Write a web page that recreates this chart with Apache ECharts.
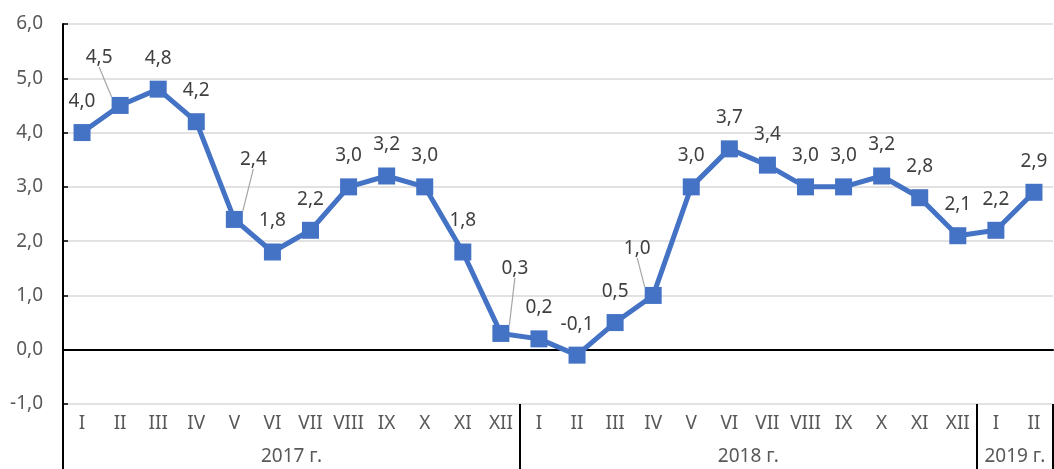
<!DOCTYPE html>
<html>
<head>
<meta charset="utf-8">
<script src="https://cdn.jsdelivr.net/npm/echarts@6/dist/echarts.min.js"></script>
<style>
  html, body { margin: 0; padding: 0; background: #fff; }
  #chart { width: 1054px; height: 469px; }
</style>
</head>
<body>
<div id="chart"></div>
<script>
// months along the axis (2017: 12, 2018: 12, 2019: 2)
const months = ['I','II','III','IV','V','VI','VII','VIII','IX','X','XI','XII',
                'I','II','III','IV','V','VI','VII','VIII','IX','X','XI','XII',
                'I','II'];
const values = [4.0, 4.5, 4.8, 4.2, 2.4, 1.8, 2.2, 3.0, 3.2, 3.0, 1.8, 0.3,
                0.2, -0.1, 0.5, 1.0, 3.0, 3.7, 3.4, 3.0, 3.0, 3.2, 2.8, 2.1,
                2.2, 2.9];
const yearLabels = ['2017 г.', '2018 г.', '2019 г.'];
const yearSizes = [12, 12, 2];

// labels pulled away from their point, drawn with a leader line
const labelShift = { 1: [-21, -17], 4: [19, -29], 11: [14, -34], 15: [-16, -16] };

// boundaries and centres of year groups, in category units
const yearBreaks = [0];
const yearCenters = [];
yearSizes.forEach(function (n) {
  const start = yearBreaks[yearBreaks.length - 1];
  yearCenters.push(start + n / 2);
  yearBreaks.push(start + n);
});

const fmt = function (v) { return v.toFixed(1).replace('.', ','); };
const font = 'Noto Sans';

const chart = echarts.init(document.getElementById('chart'));
chart.setOption({
  animation: false,
  grid: { left: 63, right: 1, top: 24, bottom: 65, outerBoundsMode: 'none' },
  xAxis: [
    {
      type: 'category',
      data: months,
      boundaryGap: true,
      axisLine: { onZero: true, lineStyle: { color: '#000', width: 2 } },
      axisTick: { inside: true, alignWithLabel: true, length: 5, lineStyle: { color: '#000', width: 1.5 } },
      axisLabel: { show: false }
    },
    {
      type: 'category',
      data: months,
      position: 'bottom',
      boundaryGap: true,
      axisLine: { show: false, onZero: false },
      axisTick: { show: false },
      axisLabel: { margin: 10, fontSize: 19, color: '#595959', fontFamily: font, interval: 0 }
    },
    {
      type: 'value',
      position: 'bottom',
      min: 0,
      max: months.length,
      axisLine: { show: false, onZero: false },
      splitLine: { show: false },
      axisTick: { customValues: yearBreaks, length: 65, lineStyle: { color: '#000', width: 2 } },
      axisLabel: {
        customValues: yearCenters,
        margin: 43,
        fontSize: 19,
        color: '#595959',
        fontFamily: font,
        formatter: function (v) { return yearLabels[yearCenters.indexOf(v)] || ''; }
      }
    }
  ],
  yAxis: {
    type: 'value',
    min: -1,
    max: 6,
    interval: 1,
    axisLine: { show: true, lineStyle: { color: '#000', width: 2 } },
    axisTick: { show: true, inside: true, length: 5, lineStyle: { color: '#000', width: 1.5 } },
    axisLabel: { margin: 20, fontSize: 19, color: '#595959', fontFamily: font, formatter: fmt },
    splitLine: { lineStyle: { color: '#d9d9d9', width: 1.5 } }
  },
  series: [{
    type: 'line',
    xAxisIndex: 0,
    data: values.map(function (v, i) {
      return labelShift[i] ? { value: v, labelLine: { show: true } } : v;
    }),
    symbol: 'rect',
    symbolSize: 17,
    lineStyle: { color: '#4472c4', width: 5 },
    itemStyle: { color: '#4472c4' },
    label: {
      show: true,
      position: 'top',
      distance: 13,
      fontSize: 19,
      color: '#404040',
      fontFamily: font,
      formatter: function (p) { return fmt(p.value); }
    },
    labelLine: { show: false, lineStyle: { color: '#a6a6a6', width: 1.2 } },
    labelLayout: function (p) {
      const s = labelShift[p.dataIndex];
      return s ? { dx: s[0], dy: s[1] } : {};
    }
  }]
});
</script>
</body>
</html>
